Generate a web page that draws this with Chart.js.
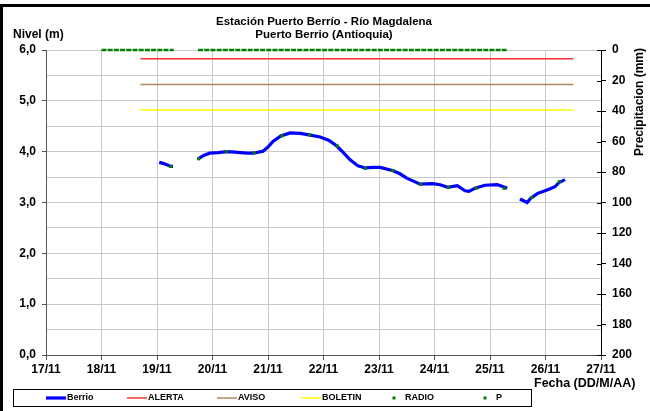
<!DOCTYPE html>
<html>
<head>
    <title>Estación Puerto Berrío</title>
    <script src="https://cdn.jsdelivr.net/npm/chart.js"></script>
    <style>
  body {
    margin: 0;
    padding: 0;
    background-color: #ffffff;
}

.chart-box {
    position: relative;
    width: 650px;
    height: 411px;
}
</style>
</head>
<body>

    <div class="chart-box">
        <canvas id="nivelChart"></canvas>
    </div>

    <script>
        // Nivel del rio (m), dia de noviembre con fraccion de hora
        const fechaBerrio = [19.04, 19.11, 19.25, 19.29, 19.5,
            19.74, 19.85, 19.95, 20.1, 20.26, 20.4, 20.5, 20.63, 20.74, 20.91, 21.0, 21.09, 21.23, 21.4, 21.58,
            21.74, 21.94, 22.1, 22.24, 22.35, 22.48, 22.62, 22.75, 22.9, 23.02, 23.24, 23.37, 23.5, 23.62, 23.74,
            23.97, 24.1, 24.24, 24.41, 24.55, 24.62, 24.73, 24.91, 25.13, 25.24, 25.31, 25.42,
            25.54, 25.67, 25.73, 25.86, 26.04, 26.17, 26.25, 26.3, 26.35];
        const nivelBerrio = [3.79, 3.77, 3.71, 3.71, null,
            3.86, 3.93, 3.97, 3.98, 4.00, 3.99, 3.98, 3.97, 3.97, 4.01, 4.09, 4.20, 4.31, 4.37, 4.36,
            4.33, 4.29, 4.22, 4.11, 3.99, 3.84, 3.72, 3.68, 3.69, 3.69, 3.63, 3.57, 3.48, 3.42, 3.36,
            3.37, 3.35, 3.30, 3.33, 3.23, 3.22, 3.28, 3.34, 3.35, 3.31, 3.28, null,
            3.07, 3.00, 3.08, 3.18, 3.25, 3.31, 3.40, 3.42, 3.45];

        // Lecturas de radio (06:00 y 18:00)
        const fechaRadio = [19.25, 19.75, 20.25, 20.75, 21.25, 21.75, 22.25, 22.75, 23.25, 23.75, 24.25, 24.75, 25.25, 25.75, 26.25];
        const nivelRadio = [3.71, 3.86, 4.00, 3.98, 4.31, 4.33, 4.11, 3.67, 3.63, 3.36, 3.30, 3.28, 3.28, 3.10, 3.41];

        // Precipitacion (mm)
        const fechaP = [18.0, 19.3, 19.5, 19.74, 25.3];
        const lluviaP = [0, 0, null, 0, 0];

        // Umbrales (m)
        const fechaUmbral = [18.7, 26.5];
        const alerta = 5.83;
        const aviso = 5.32;
        const boletin = 4.82;

        const diasX = [17, 27];
        const leyenda = ['Berrio', 'ALERTA', 'AVISO', 'BOLETIN', 'RADIO', 'P'];

        const toPoints = (xs, ys) => xs.map((x, i) => ({ x: x, y: ys[i] }));
        const umbral = v => fechaUmbral.map(x => ({ x: x, y: v }));

        const bold = size => ({ family: '"Liberation Sans", Arial, sans-serif', size: size, weight: 'bold' });

        // Textos, marco y leyenda al estilo Excel
        const decor = {
            id: 'decor',
            afterDraw(chart) {
                const ctx = chart.ctx;
                ctx.save();
                ctx.fillStyle = '#000';
                ctx.fillRect(0, 4, 650, 3);
                ctx.fillRect(0, 4, 3, 407);

                ctx.font = 'bold 11.5px "Liberation Sans", Arial, sans-serif';
                ctx.textBaseline = 'middle';
                ctx.textAlign = 'center';
                ctx.fillText('Estación Puerto Berrío - Río Magdalena', 324, 22);
                ctx.fillText('Puerto Berrio (Antioquia)', 324, 35);
                ctx.textAlign = 'left';
                ctx.font = 'bold 12px "Liberation Sans", Arial, sans-serif';
                ctx.fillText('Nivel (m)', 13, 35);
                ctx.font = 'bold 12.5px "Liberation Sans", Arial, sans-serif';
                ctx.fillText('Fecha (DD/M/AA)', 534, 384);

                ctx.translate(640, 102);
                ctx.rotate(-Math.PI / 2);
                ctx.textAlign = 'center';
                ctx.font = 'bold 12px "Liberation Sans", Arial, sans-serif';
                ctx.fillText('Precipitacion (mm)', 0, 0);
                ctx.restore();

                // ticks del eje derecho hacia adentro
                const y2 = chart.scales.y2;
                ctx.save();
                ctx.strokeStyle = '#000';
                ctx.lineWidth = 1;
                y2.ticks.forEach(t => {
                    const py = Math.round(y2.getPixelForValue(t.value)) + 0.5;
                    ctx.beginPath();
                    ctx.moveTo(y2.left - 4, py);
                    ctx.lineTo(y2.left, py);
                    ctx.stroke();
                });
                ctx.restore();

                // leyenda
                ctx.save();
                ctx.strokeStyle = '#000';
                ctx.lineWidth = 1;
                ctx.strokeRect(13.5, 389.5, 518, 17);
                const xs = [46, 127, 217, 301, 384, 475];
                ctx.font = 'bold 9px "Liberation Sans", Arial, sans-serif';
                ctx.textBaseline = 'middle';
                chart.data.datasets.forEach((ds, i) => {
                    const x = xs[i];
                    const y = 398;
                    if (ds.legendDot) {
                        ctx.fillStyle = ds.pointBackgroundColor || ds.borderColor;
                        ctx.fillRect(x + 8.5, y - 1.5, 3, 3);
                    } else {
                        ctx.strokeStyle = ds.borderColor;
                        ctx.lineWidth = ds.borderWidth;
                        ctx.beginPath();
                        ctx.moveTo(x, y);
                        ctx.lineTo(x + 20, y);
                        ctx.stroke();
                    }
                    ctx.fillStyle = '#000';
                    ctx.fillText(ds.label, x + 21, y);
                });
                ctx.restore();
            }
        };

        new Chart(document.getElementById('nivelChart'), {
            type: 'line',
            data: {
                datasets: [
                    { label: leyenda[0], data: toPoints(fechaBerrio, nivelBerrio), borderColor: '#0000ff', borderWidth: 3.2, pointRadius: 0, order: 2 },
                    { label: leyenda[1], data: umbral(alerta), borderColor: '#ff3333', borderWidth: 1.5, pointRadius: 0, order: 4 },
                    { label: leyenda[2], data: umbral(aviso), borderColor: '#b08760', borderWidth: 1.5, pointRadius: 0, order: 4 },
                    { label: leyenda[3], data: umbral(boletin), borderColor: '#ffff00', borderWidth: 1.5, pointRadius: 0, order: 4 },
                    { label: leyenda[4], data: toPoints(fechaRadio, nivelRadio), showLine: false, pointStyle: 'rect', pointRadius: 2.2,
                      borderColor: '#008000', pointBackgroundColor: '#008000', pointBorderWidth: 0, legendDot: true, order: 1 },
                    { label: leyenda[5], data: toPoints(fechaP, lluviaP), yAxisID: 'y2', borderColor: '#008000', pointBackgroundColor: '#008000',
                      borderWidth: 2.5, borderDash: [5, 1.2], pointRadius: 0, clip: false, legendDot: true, order: 3 }
                ]
            },
            options: {
                responsive: true,
                maintainAspectRatio: false,
                animation: false,
                events: [],
                layout: { padding: { top: 50, right: 0, bottom: 0, left: 0 } },
                plugins: {
                    legend: { display: false },
                    title: { display: false },
                    tooltip: { enabled: false }
                },
                scales: {
                    x: {
                        type: 'linear',
                        min: diasX[0],
                        max: diasX[1],
                        afterFit(scale) { scale.height = 56; },
                        ticks: { stepSize: 1, color: '#000', font: bold(12), padding: 2, maxRotation: 0,
                                 callback: v => v + '/11' },
                        grid: { color: '#c8c8c8', tickColor: '#555', tickLength: 5 },
                        border: { color: '#555' }
                    },
                    y: {
                        position: 'left',
                        min: 0,
                        max: 6,
                        afterFit(scale) { scale.width = 46; },
                        ticks: { stepSize: 0.5, color: '#000', font: bold(12), padding: 6,
                                 callback: v => (v % 1 === 0 ? v.toFixed(1).replace('.', ',') : '') },
                        grid: { color: '#c8c8c8', tickLength: 4,
                                tickColor: c => (c.tick && c.tick.value % 1 === 0 ? '#555' : 'rgba(0,0,0,0)') },
                        border: { color: '#555' }
                    },
                    y2: {
                        position: 'right',
                        min: 0,
                        max: 200,
                        reverse: true,
                        afterFit(scale) { scale.width = 49; },
                        ticks: { stepSize: 20, color: '#000', font: bold(12), padding: 6 },
                        grid: { drawOnChartArea: false, tickColor: '#000', tickLength: 5 },
                        border: { color: '#000' }
                    }
                }
            },
            plugins: [decor]
        });
    </script>
</body>
</html>
